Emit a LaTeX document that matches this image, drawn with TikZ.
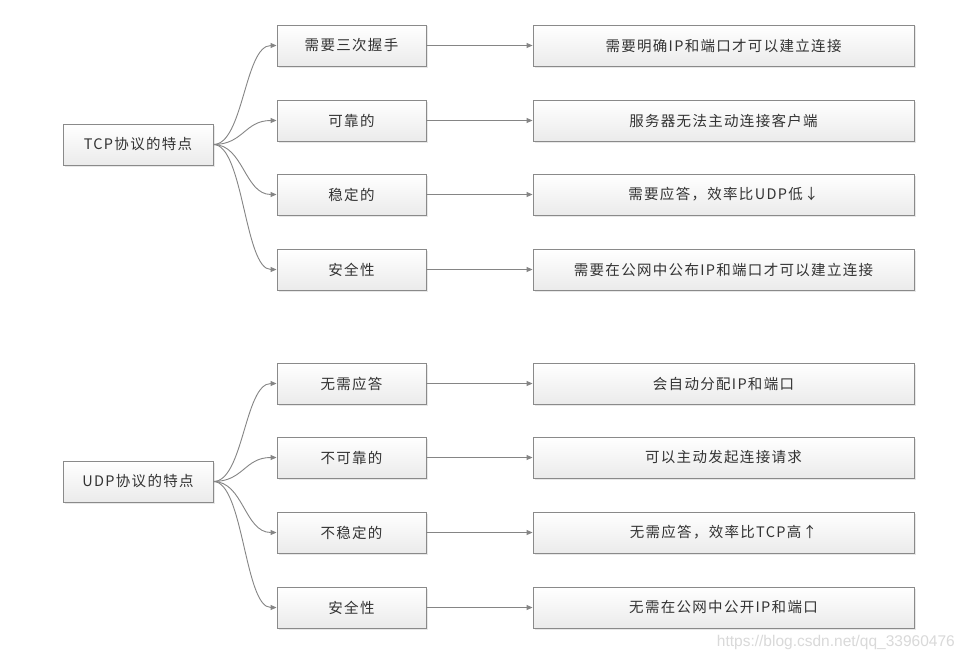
\documentclass[tikz,border=0pt]{standalone}
\usepackage{fontspec}
\setmainfont[LetterSpace=9]{Noto Sans CJK SC}
\newfontfamily\wmfont{Liberation Sans}
\usetikzlibrary{arrows.meta,shadows}
\definecolor{bordergray}{HTML}{8A8A8A}
\definecolor{linegray}{HTML}{858585}
\definecolor{txtgray}{HTML}{333333}
\tikzset{
  box/.style={draw=bordergray, line width=0.9pt, top color=white, bottom color=black!8,
    minimum height=41pt, inner sep=0pt, font=\fontsize{14.5pt}{17pt}\selectfont, text=txtgray,
    drop shadow={shadow xshift=1.5pt, shadow yshift=-1.5pt, fill=black!15, opacity=0.6}},
  rootbox/.style={box, minimum width=150pt},
  midbox/.style={box, minimum width=149pt},
  rightbox/.style={box, minimum width=381pt},
  conn/.style={draw=linegray, line width=0.9pt, -{Triangle[length=6pt,width=5pt]}},
}
\begin{document}
\begin{tikzpicture}[x=1pt,y=-1pt]
\useasboundingbox (0,0) rectangle (965,661);
\fill[white] (0,0) rectangle (965,661);
% TCP
\node[rootbox] (tcp) at (138,144.5) {TCP协议的特点};
\node[midbox] (t1) at (351.5,45.5) {需要三次握手};
\node[midbox] (t2) at (351.5,120.5) {可靠的};
\node[midbox] (t3) at (351.5,194.5) {稳定的};
\node[midbox] (t4) at (351.5,269.5) {安全性};
\node[rightbox] (r1) at (723.5,45.5) {需要明确IP和端口才可以建立连接};
\node[rightbox] (r2) at (723.5,120.5) {服务器无法主动连接客户端};
\node[rightbox] (r3) at (723.5,194.5) {需要应答，效率比UDP低↓};
\node[rightbox] (r4) at (723.5,269.5) {需要在公网中公布IP和端口才可以建立连接};
% UDP
\node[rootbox] (udp) at (138,481.5) {UDP协议的特点};
\node[midbox] (u1) at (351.5,383.5) {无需应答};
\node[midbox] (u2) at (351.5,457.5) {不可靠的};
\node[midbox] (u3) at (351.5,532.5) {不稳定的};
\node[midbox] (u4) at (351.5,607.5) {安全性};
\node[rightbox] (s1) at (723.5,383.5) {会自动分配IP和端口};
\node[rightbox] (s2) at (723.5,457.5) {可以主动发起连接请求};
\node[rightbox] (s3) at (723.5,532.5) {无需应答，效率比TCP高↑};
\node[rightbox] (s4) at (723.5,607.5) {无需在公网中公开IP和端口};
% curves
\foreach \r/\a/\b/\c/\d in {tcp/t1/t2/t3/t4, udp/u1/u2/u3/u4}{
  \foreach \m in {\a,\b,\c,\d}{
    \draw[conn] (\r.east) .. controls ([xshift=30pt]\r.east) and ([xshift=-32pt]\m.west) .. (\m.west);
  }
}
\foreach \m/\r in {t1/r1,t2/r2,t3/r3,t4/r4,u1/s1,u2/s2,u3/s3,u4/s4}{
  \draw[conn] (\m.east) -- (\r.west);
}
\node[anchor=east, font=\wmfont\fontsize{15.5pt}{17pt}\selectfont, text=black!15, inner sep=0pt] (wm) at (955,642) {https://blog.csdn.net/qq\_33960476};
\end{tikzpicture}
\end{document}
